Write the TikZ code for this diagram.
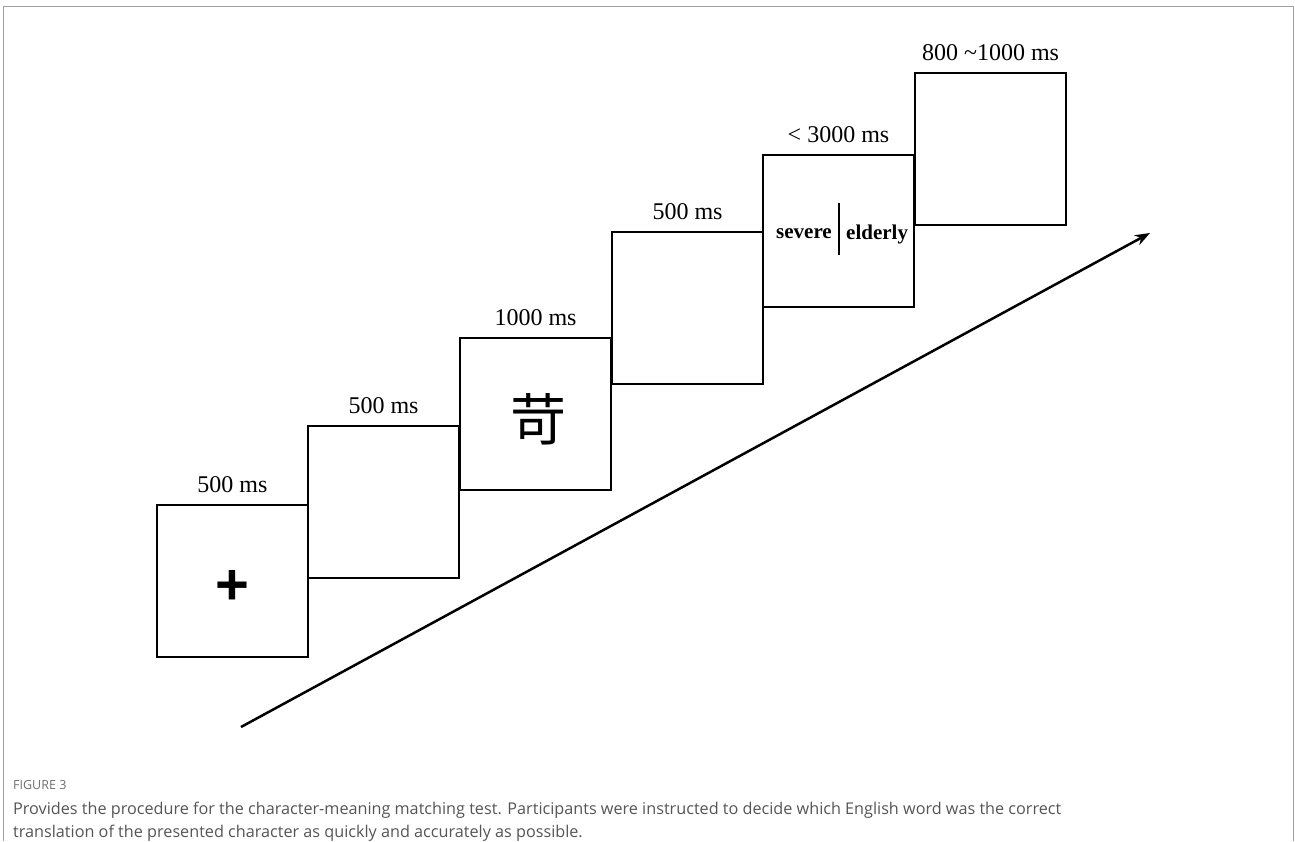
\documentclass[tikz,border=0pt]{standalone}
\usepackage{fontspec}
\setmainfont{Liberation Serif}
\newfontfamily\capfont{Open Sans}
\newfontfamily\plusfont{Liberation Sans}
\newfontfamily\cjk{Noto Sans CJK SC}
\usetikzlibrary{arrows.meta}
\definecolor{framegray}{HTML}{A0A0A0}
\definecolor{captext}{HTML}{555555}
\begin{document}
\begin{tikzpicture}[x=1pt,y=-1pt,
  screen/.style={draw=black, line width=2.8pt, minimum width=151pt, minimum height=152pt, anchor=north west, inner sep=0pt, outer sep=0pt},
  dur/.style={font=\fontsize{24}{28}\selectfont, anchor=south, inner sep=0pt, yshift=12pt},
  word/.style={font=\fontsize{21}{24}\selectfont\bfseries, inner sep=0pt},
  captxt/.style={font=\capfont\fontsize{16.2}{22}\selectfont, text=captext, anchor=west, inner sep=0pt}]
\useasboundingbox (0,0) rectangle (1295,841);
% frame
\draw[framegray, line width=1pt] (3.5,841) -- (3.5,6.5) -- (1293.5,6.5) -- (1293.5,841);
% screens
\node[screen] (s1) at (157,505) {};
\node[screen] (s2) at (308,426) {};
\node[screen] (s3) at (460,338) {};
\node[screen] (s4) at (612,232) {};
\node[screen] (s5) at (763,155) {};
\node[screen] (s6) at (915,73) {};
% durations
\node[dur] (d1) at (s1.north) {500 ms};
\node[dur] (d2) at (s2.north) {500 ms};
\node[dur] (d3) at (s3.north) {1000 ms};
\node[dur] (d4) at (s4.north) {500 ms};
\node[dur] (d5) at (s5.north) {< 3000 ms};
\node[dur] (d6) at (s6.north) {800 \textasciitilde1000 ms};
% contents
\node[font=\plusfont\bfseries\fontsize{58}{58}\selectfont, inner sep=0pt] (plus) at (232,587) {+};
\node[font=\cjk\fontsize{56}{56}\selectfont, inner sep=0pt] (char) at (538,419) {苛};
\node[word, anchor=east] (w1) at (832,234) {severe};
\node[word, anchor=west] (w2) at (846,234) {elderly};
\coordinate (bt) at (839,203);
\coordinate (bb) at (839,255);
\draw[line width=2.4pt] (bt) -- (bb);
% time arrow
\coordinate (as) at (241,727);
\coordinate (ae) at (1150,233);
\draw[line width=2.5pt, -{Stealth[length=15pt, width=11pt]}] (as) -- (ae);
% caption
\node[font=\capfont\fontsize{12.5}{14}\selectfont, text=captext!85, anchor=west, inner sep=0pt] (fig) at (13,785) {FIGURE 3};
\node[captxt] (c1) at (13,810) {Provides the procedure for the character-meaning matching test. Participants were instructed to decide which English word was the correct};
\node[captxt] (c2) at (13,833) {translation of the presented character as quickly and accurately as possible.};
\end{tikzpicture}
\end{document}
